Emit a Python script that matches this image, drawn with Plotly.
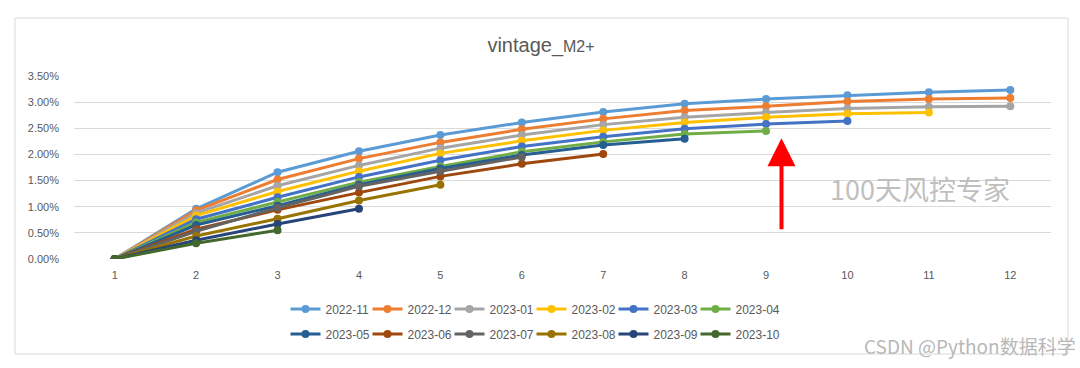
import plotly.graph_objects as go

months = [1, 2, 3, 4, 5, 6, 7, 8, 9, 10, 11, 12]
cohorts = ["2022-11", "2022-12", "2023-01", "2023-02", "2023-03", "2023-04",
           "2023-05", "2023-06", "2023-07", "2023-08", "2023-09", "2023-10"]

v_2022_11 = [0, 0.96, 1.66, 2.06, 2.37, 2.61, 2.81, 2.97, 3.06, 3.13, 3.19, 3.23]
v_2022_12 = [0, 0.93, 1.52, 1.92, 2.23, 2.48, 2.68, 2.84, 2.92, 3.01, 3.06, 3.08]
v_2023_01 = [0, 0.88, 1.40, 1.79, 2.12, 2.37, 2.57, 2.71, 2.80, 2.88, 2.91, 2.92]
v_2023_02 = [0, 0.83, 1.29, 1.68, 2.02, 2.26, 2.46, 2.61, 2.71, 2.78, 2.80]
v_2023_03 = [0, 0.76, 1.18, 1.57, 1.89, 2.15, 2.34, 2.49, 2.58, 2.64]
v_2023_04 = [0, 0.70, 1.09, 1.47, 1.77, 2.05, 2.24, 2.39, 2.45]
v_2023_05 = [0, 0.65, 1.02, 1.42, 1.73, 1.99, 2.18, 2.30]
v_2023_06 = [0, 0.57, 0.94, 1.27, 1.58, 1.82, 2.01]
v_2023_07 = [0, 0.53, 0.98, 1.39, 1.68, 1.95]
v_2023_08 = [0, 0.44, 0.77, 1.12, 1.42]
v_2023_09 = [0, 0.36, 0.67, 0.96]
v_2023_10 = [0, 0.30, 0.55]

series = [v_2022_11, v_2022_12, v_2023_01, v_2023_02, v_2023_03, v_2023_04,
          v_2023_05, v_2023_06, v_2023_07, v_2023_08, v_2023_09, v_2023_10]

colors = ["#5B9BD5", "#ED7D31", "#A5A5A5", "#FFC000", "#4472C4", "#70AD47",
          "#255E91", "#9E480E", "#636363", "#997300", "#264478", "#43682B"]

y_ticks = [0, 0.5, 1.0, 1.5, 2.0, 2.5, 3.0, 3.5]

W, H = 1080, 368
L, R, T, B = 74, 1051, 76, 259  # plot area pixels

def px_x(p):
    return (p - L) / (R - L)

def px_y(p):
    return (B - p) / (B - T)

FONT = "Liberation Sans, Arial, sans-serif"
TXT = "#595959"

fig = go.Figure()
for i, (name, vals, col) in enumerate(zip(cohorts, series, colors)):
    last_in_row = i in (5, 11)
    fig.add_trace(go.Scatter(
        x=months[:len(vals)], y=vals, name=name, mode="lines+markers",
        line=dict(color=col, width=3),
        marker=dict(color=col, size=8),
        legend="legend" if i < 6 else "legend2",
        legendwidth=48 if last_in_row else None,
        hoverinfo="skip",
    ))

legend_common = dict(
    orientation="h", xanchor="center", yanchor="middle",
    font=dict(family=FONT, size=12, color=TXT),
    itemwidth=30, entrywidth=37, entrywidthmode="pixels",
    bgcolor="rgba(0,0,0,0)", tracegroupgap=0,
)

fig.update_layout(
    width=W, height=H,
    margin=dict(l=L, r=W - R, t=T, b=H - B, autoexpand=False),
    paper_bgcolor="white", plot_bgcolor="white",
    font=dict(family=FONT, color=TXT),
    showlegend=True,
    legend=dict(x=px_x(537), y=px_y(309), **legend_common),
    legend2=dict(x=px_x(537), y=px_y(334), **legend_common),
    xaxis=dict(
        range=[0.5, 12.5], tickmode="array", tickvals=months,
        ticktext=[str(m) for m in months], showgrid=False, zeroline=False,
        showline=False, ticks="", tickfont=dict(size=11, color=TXT), ticklabelstandoff=8,
    ),
    yaxis=dict(
        range=[0, 3.5], tickmode="array", tickvals=y_ticks,
        ticktext=[f"{t:.2f}%" for t in y_ticks], showgrid=True,
        gridcolor="#D9D9D9", gridwidth=1, zeroline=False, showline=False,
        ticks="", tickfont=dict(size=11, color=TXT), ticklabelstandoff=14,
    ),
    title=dict(
        text="vintage_<span style='font-size:16px'>M2+</span>",
        x=541 / W, xanchor="center", xref="container",
        y=1 - 45 / H, yanchor="middle", yref="container",
        font=dict(family=FONT, size=20, color=TXT),
    ),
    shapes=[dict(
        type="rect", xref="paper", yref="paper",
        x0=px_x(15), x1=px_x(1068), y0=px_y(354), y1=px_y(18),
        line=dict(color="#D9D9D9", width=1), fillcolor="rgba(0,0,0,0)", layer="below",
    )],
    annotations=[
        dict(text="100天风控专家", xref="paper", yref="paper",
             x=px_x(920), y=px_y(188), xanchor="center", yanchor="middle",
             showarrow=False, font=dict(family="Noto Sans CJK SC", size=27, color="#BFBFBF")),
        dict(text="CSDN @Python数据科学", xref="paper", yref="paper",
             x=px_x(1078), y=px_y(345), xanchor="right", yanchor="middle",
             showarrow=False, font=dict(family="Noto Sans CJK SC", size=19, color="#B8B8B8")),
        dict(x=9.19, y=2.31, xref="x", yref="y", ax=9.19, ay=0.54, axref="x", ayref="y",
             text="", showarrow=True, arrowhead=2, arrowsize=1.4, arrowwidth=4,
             arrowcolor="#FF0000", standoff=0),
    ],
)

fig.write_html("out.html", config={"displayModeBar": False},
               post_script="document.body.style.margin='0';")
